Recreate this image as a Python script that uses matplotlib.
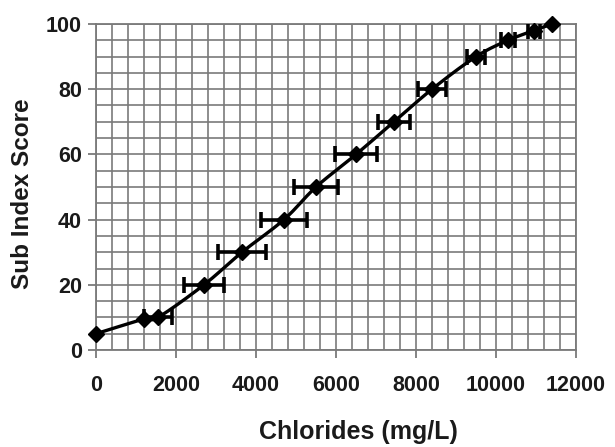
import numpy as np
import matplotlib
matplotlib.use('Agg')
from matplotlib import pyplot as plt
from matplotlib.ticker import MultipleLocator

plt.rcParams['font.family'] = ['Liberation Sans', 'DejaVu Sans']

# data
chloride = [0, 1200, 1550, 2700, 3650, 4700, 5500, 6500, 7450, 8400, 9500, 10300, 10950, 11400]
score = [5, 9.5, 10, 20, 30, 40, 50, 60, 70, 80, 90, 95, 98, 100]
chloride_err = [0, 0, 350, 500, 600, 580, 540, 520, 400, 360, 220, 180, 150, 0]


def smooth(xs, ys, n=20):
    # catmull-rom curve through the points (like excel "smoothed line")
    px = np.array(xs, float)
    py = np.array(ys, float)
    px = np.concatenate([[2 * px[0] - px[1]], px, [2 * px[-1] - px[-2]]])
    py = np.concatenate([[2 * py[0] - py[1]], py, [2 * py[-1] - py[-2]]])
    t = np.linspace(0, 1, n)
    ox, oy = [], []
    for i in range(1, len(px) - 2):
        for p, out in ((px, ox), (py, oy)):
            p0, p1, p2, p3 = p[i - 1], p[i], p[i + 1], p[i + 2]
            out.extend(0.5 * (2 * p1 + (-p0 + p2) * t + (2 * p0 - 5 * p1 + 4 * p2 - p3) * t ** 2
                              + (-p0 + 3 * p1 - 3 * p2 + p3) * t ** 3))
    return ox, oy


fig = plt.figure(figsize=(6.15, 4.47), dpi=100)
ax = fig.add_axes([96 / 615, 1 - 350 / 447, 480 / 615, 326 / 447])

ax.set_xlim(0, 12000)
ax.set_ylim(0, 100)
ax.xaxis.set_major_locator(MultipleLocator(2000))
ax.xaxis.set_minor_locator(MultipleLocator(400))
ax.yaxis.set_major_locator(MultipleLocator(20))
ax.yaxis.set_minor_locator(MultipleLocator(5))
ax.grid(which='both', color='#7a7a7a', linewidth=1.2)
ax.set_axisbelow(True)
for s in ax.spines.values():
    s.set_color('#7a7a7a')
    s.set_linewidth(1.3)
ax.tick_params(which='major', direction='out', length=6, width=1.3, color='#7a7a7a',
               labelsize=15.5)
ax.tick_params(axis='x', which='major', pad=12)
ax.tick_params(axis='y', which='major', pad=4)
ax.tick_params(which='minor', length=0)
for lab in ax.get_xticklabels() + ax.get_yticklabels():
    lab.set_fontweight('bold')
    lab.set_color('#1a1a1a')

sx, sy = smooth(chloride, score)
ax.plot(sx, sy, color='black', linewidth=2.4, zorder=3, clip_on=False)
ax.plot(chloride, score, linestyle='none', marker='D', markersize=8,
        color='black', zorder=4, clip_on=False)

idx = [i for i, e in enumerate(chloride_err) if e > 0]
ax.errorbar([chloride[i] for i in idx], [score[i] for i in idx],
            xerr=[chloride_err[i] for i in idx], fmt='none', ecolor='black',
            elinewidth=2.6, capsize=6, capthick=2.6, zorder=4)

ax.set_xlabel('Chlorides (mg/L)', fontsize=18, fontweight='bold', color='#1a1a1a')
ax.set_ylabel('Sub Index Score', fontsize=17.5, fontweight='bold', color='#1a1a1a')
ax.xaxis.set_label_coords(0.546, -0.25)
ax.yaxis.set_label_coords(-0.154, 0.48)
ax.xaxis.label.set_va('center')
ax.yaxis.label.set_va('center')

fig.savefig('out.png', dpi=100, facecolor='white')
